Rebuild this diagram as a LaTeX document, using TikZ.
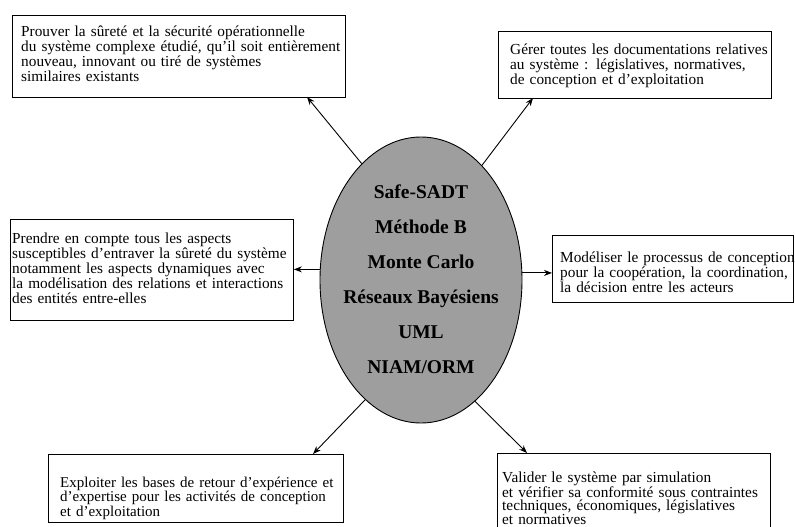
\documentclass[tikz,border=0pt]{standalone}
\usepackage{fontspec}
\setmainfont{Liberation Serif}
\usetikzlibrary{shapes.geometric,arrows.meta}
\begin{document}
\begin{tikzpicture}[x=1pt,y=-1pt,
  boxnode/.style={draw=black,line width=0.9pt,rectangle,anchor=north west,inner sep=0pt},
  boxtext/.style={anchor=base west,inner sep=0pt,text width=330pt,align=left,
    font=\fontsize{15.3}{15}\selectfont},
  arr/.style={line width=0.9pt,-{Stealth[length=8pt,width=6pt]}},
  core/.style={ellipse,draw=black,line width=0.9pt,fill=black!38,inner sep=0pt,
    minimum width=202pt,minimum height=286pt}]
\clip (0,0) rectangle (795,527);
\path[use as bounding box] (0,0) rectangle (795,527);
% central ellipse
\node[core] (e) at (421,280) {};
\node[align=center,inner sep=0pt,font=\fontsize{19.5}{35}\selectfont\bfseries] (etext) at (421,279)
  {Safe-SADT\\Méthode B\\Monte Carlo\\Réseaux Bayésiens\\UML\\NIAM/ORM};
% boxes
\node[boxnode,minimum width=333pt,minimum height=82pt] (tl) at (12,15) {};
\node[boxnode,minimum width=273pt,minimum height=67pt] (tr) at (498,31) {};
\node[boxnode,minimum width=283pt,minimum height=101pt] (ml) at (10,219) {};
\node[boxnode,minimum width=241pt,minimum height=67pt] (mr) at (552,235) {};
\node[boxnode,minimum width=295pt,minimum height=68pt] (bl) at (48,454) {};
\node[boxnode,minimum width=273pt,minimum height=110pt] (br) at (497,453) {};
% texts
\node[boxtext] (tltext) at (21,37) {Prouver la sûreté et la sécurité opérationnelle\\du système complexe étudié, qu'il soit entièrement\\nouveau, innovant ou tiré de systèmes\\similaires existants};
\node[boxtext] (trtext) at (510,55) {Gérer toutes les documentations relatives\\au système : législatives, normatives,\\de conception et d'exploitation};
\node[boxtext] (mltext) at (12,243) {Prendre en compte tous les aspects\\susceptibles d'entraver la sûreté du système\\notamment les aspects dynamiques avec\\la modélisation des relations et interactions\\des entités entre-elles};
\node[boxtext] (mrtext) at (560,262) {Modéliser le processus de conception\\pour la coopération, la coordination,\\la décision entre les acteurs};
\node[boxtext,font=\fontsize{15}{14.8}\selectfont] (bltext) at (60,487) {Exploiter les bases de retour d'expérience et\\d'expertise pour les activités de conception\\et d'exploitation};
\node[boxtext,font=\fontsize{15.3}{13.8}\selectfont] (brtext) at (502,482) {Valider le système par simulation\\et vérifier sa conformité sous contraintes\\techniques, économiques, législatives\\et normatives};
% arrow tips
\coordinate (ttl) at (307,97);
\coordinate (ttr) at (533,98);
\coordinate (tbl) at (313,454);
\coordinate (tbr) at (527,453);
% connectors
\draw[arr] (e.117.6) -- (ttl);
\draw[arr] (e.62.4) -- (ttr);
\draw[arr] (e.245.4) -- (tbl);
\draw[arr] (e.294.6) -- (tbr);
\draw[arr] (e.174) -- (e.174 -| ml.east);
\draw[arr] (e.4) -- (e.4 -| mr.west);
\end{tikzpicture}
\end{document}
